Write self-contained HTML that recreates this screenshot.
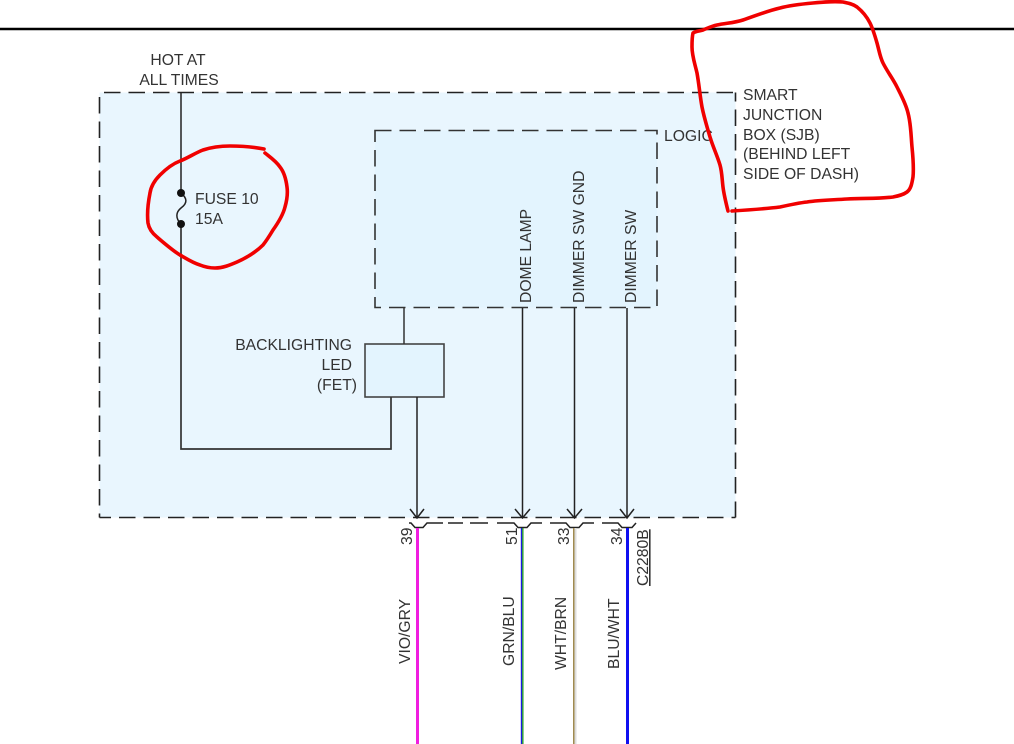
<!DOCTYPE html>
<html><head><meta charset="utf-8"><style>
html,body{margin:0;padding:0;background:#fff;width:1014px;height:744px;overflow:hidden}
svg{display:block}
text{font-family:"Liberation Sans",sans-serif;font-size:15.700px;fill:#333}
</style></head><body>
<svg width="1014" height="744" viewBox="0 0 1014 744" xmlns="http://www.w3.org/2000/svg">
<rect width="1014" height="744" fill="#fff"/>
<line x1="0" y1="29" x2="1014" y2="29" stroke="#000" stroke-width="2.500"/>
<rect x="99.500" y="92.500" width="636" height="425" fill="#e9f6fe"/>
<g stroke="#222" stroke-width="1.600" stroke-dasharray="16.500 8" fill="none">
<path d="M99.500 92.500H735.500" stroke-dashoffset="-4.500"/>
<path d="M735.500 92.500V517.500" stroke-dashoffset="-17"/>
<path d="M99.500 517.500H735.500" stroke-dashoffset="-19.500"/>
<path d="M99.500 92.500V517.500" stroke-dashoffset="-4.500"/>
</g>
<rect x="375" y="130.500" width="282" height="177" fill="#e3f4fe" stroke="#333" stroke-width="1.600" stroke-dasharray="16.500 8"/>
<rect x="365" y="344" width="79" height="53" fill="#e3f4fe" stroke="#444" stroke-width="1.600"/>
<g fill="none" stroke="#222" stroke-width="1.500">
<path d="M181 92V193"/>
<path d="M181 193C187 198 188 203 181 208C176 212 175 218 181 224"/>
<path d="M181 224V449H391V397" stroke="#333" stroke-width="1.700"/>
<path d="M404 308V344" stroke="#333"/>
<path d="M417 397V518"/>
<path d="M522.500 308V518"/>
<path d="M574.500 308V518"/>
<path d="M627 308V518"/>
<path d="M410 509L417 518L424 509M515 509L522.500 518L530 509M567 509L574.500 518L582 509M620 509L627 518L634 509"/>
<path d="M409 523H411L415 527.500H423L427 523H443"/>
<path d="M497 523H514L518 527.500H527L531 523H542M550 523H566L570 527.500H579L583 523H594M602 523H618L622 527.500H632L636 523"/>
<path d="M448 523H463M470 523H488"/>
</g>
<circle cx="181" cy="193" r="4" fill="#111"/>
<circle cx="181" cy="224" r="4" fill="#111"/>
<rect x="416" y="528" width="3" height="216" fill="#f01ee0"/>
<rect x="520.800" y="528" width="1.400" height="216" fill="#1a1ae0"/>
<rect x="522.200" y="528" width="1.300" height="216" fill="#1a9a1a"/>
<rect x="573" y="528" width="1.500" height="216" fill="#a08a50"/>
<rect x="574.500" y="528" width="2" height="216" fill="#ddd"/>
<rect x="626" y="528" width="3" height="216" fill="#1010f0"/>
<text x="178" y="65" text-anchor="middle">HOT AT</text>
<text x="179" y="85" text-anchor="middle">ALL TIMES</text>
<text x="195" y="204">FUSE 10</text>
<text x="195" y="224">15A</text>
<text x="664" y="141">LOGIC</text>
<text x="743" y="100">SMART</text>
<text x="743" y="120">JUNCTION</text>
<text x="743" y="140">BOX (SJB)</text>
<text x="743" y="159">(BEHIND LEFT</text>
<text x="743" y="179">SIDE OF DASH)</text>
<text x="352" y="350" text-anchor="end">BACKLIGHTING</text>
<text x="352" y="370" text-anchor="end">LED</text>
<text x="357" y="390" text-anchor="end">(FET)</text>
<text transform="translate(531,303) rotate(-90)">DOME LAMP</text>
<text transform="translate(584,303) rotate(-90)">DIMMER SW GND</text>
<text transform="translate(636,303) rotate(-90)">DIMMER SW</text>
<text transform="translate(412,545) rotate(-90)">39</text>
<text transform="translate(517,545) rotate(-90)">51</text>
<text transform="translate(569,545) rotate(-90)">33</text>
<text transform="translate(622,545) rotate(-90)">34</text>
<text transform="translate(410,664) rotate(-90)">VIO/GRY</text>
<text transform="translate(514,666) rotate(-90)">GRN/BLU</text>
<text transform="translate(566,670) rotate(-90)">WHT/BRN</text>
<text transform="translate(619,669) rotate(-90)">BLU/WHT</text>
<text transform="translate(648,586) rotate(-90)" text-decoration="underline">C2280B</text>
<g fill="none" stroke="#f00000" stroke-width="3.600" stroke-linejoin="round" stroke-linecap="round">
<path d="M264 149C254 147 241 146 230 146C220 146 212 147 203 150C195 153 188 158 180 161C172 164 166 169 160 175C155 180 151 186 150 193C148 203 147 214 148 223C149 229 152 233 157 237C164 243 172 250 180 255C187 259 193 263 200 265C205 267 210 268 215 268C223 268 230 265 237 262C246 258 256 252 263 245C267 240 270 235 273 230C278 223 283 215 285 207C287 200 288 194 287 187C286 179 284 172 280 167C276 161 270 157 265 153"/>
<path d="M728 211C726 203 724 195 723 187C722 179 722 172 720 165C717 155 713 147 710 137C707 127 704 117 702 107C700 96 699 84 697 73C695 64 692 56 692 47C692 41 692 37 693 33C696 31 700 31 703 30C708 28 712 26 717 25C726 23 734 23 743 20C755 16 767 11 780 8C791 5 802 4 813 3C823 2 833 1 843 2C848 3 853 4 857 7C862 11 867 17 870 23C873 29 875 36 877 43C879 50 880 57 883 63C887 71 893 79 897 87C901 95 906 104 908 113C911 124 911 136 912 147C913 157 914 167 913 177C912 183 911 189 907 192C903 195 898 196 893 197C878 199 862 198 847 199C833 200 820 200 807 202C798 203 789 205 780 207C764 209 748 210 732 211"/>
</g>
</svg>
</body></html>
